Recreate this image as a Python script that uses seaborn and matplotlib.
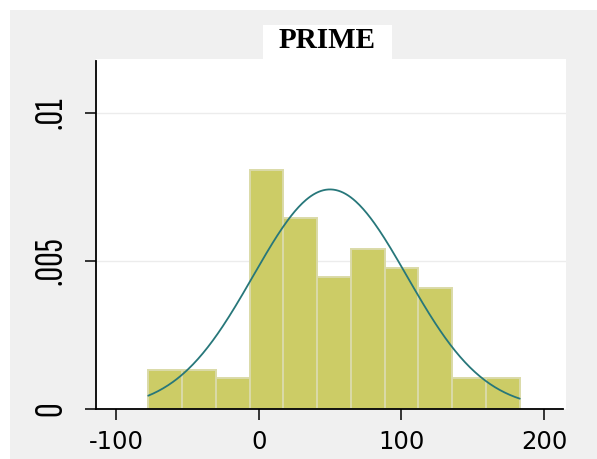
import matplotlib
matplotlib.use("Agg")
import matplotlib.pyplot as plt
from matplotlib.patches import Rectangle
import numpy as np
import pandas as pd
import seaborn as sns

# histogram bins (edges) and density heights
BIN_EDGES = [-77.4, -53.7, -30.1, -6.4, 17.3, 40.9, 64.6, 88.3, 111.9, 135.6, 159.3, 183.0]
DENSITY = [0.00133, 0.00133, 0.00104, 0.00806, 0.00646, 0.00445, 0.00542, 0.00476, 0.00409, 0.00104, 0.00104]

# normal overlay parameters
NORMAL_MEAN = 50.0
NORMAL_SD = 53.8

X_TICKS = [-100, 0, 100, 200]
X_TICK_LABELS = ["-100", "0", "100", "200"]
Y_TICKS = [0, 0.005, 0.01]
Y_TICK_LABELS = ["0", ".005", ".01"]
TITLE = "PRIME"

W, H = 597, 459


def main() -> None:
    sns.set_style("ticks")
    plt.rcParams["font.family"] = ["DejaVu Sans"]

    fig = plt.figure(figsize=(W / 100, H / 100), dpi=100, facecolor="white")
    # grey outer panel
    fig.patches.append(Rectangle((10 / W, 0), (W - 10) / W, (H - 10) / H, transform=fig.transFigure,
                                 facecolor="#f0f0f0", edgecolor="none", zorder=-10))

    ax = fig.add_axes([96 / W, 50 / H, (566 - 96) / W, (400 - 50) / H])
    ax.set_facecolor("white")

    edges = np.array(BIN_EDGES)
    df = pd.DataFrame({"x": (edges[:-1] + edges[1:]) / 2, "w": DENSITY})
    sns.histplot(data=df, x="x", weights="w", bins=BIN_EDGES, stat="count", ax=ax,
                 color="#cccc66", edgecolor="#dadaa8", linewidth=1.4, alpha=1.0, zorder=2)

    xs = np.linspace(BIN_EDGES[0], BIN_EDGES[-1], 300)
    pdf = np.exp(-0.5 * ((xs - NORMAL_MEAN) / NORMAL_SD) ** 2) / (NORMAL_SD * np.sqrt(2 * np.pi))
    curve = pd.DataFrame({"x": xs, "y": pdf})
    sns.lineplot(data=curve, x="x", y="y", ax=ax, color="#27777a", linewidth=1.3, zorder=3)

    for yv in Y_TICKS[1:]:
        ax.axhline(yv, color="#ececec", linewidth=1.0, zorder=1)

    ax.set_xlim(-114, 215.4)
    ax.set_ylim(0, 0.01182)
    ax.set_xticks(X_TICKS)
    ax.set_xticklabels(X_TICK_LABELS, fontsize=17.5, family=["DejaVu Sans"], color="black")
    ax.set_yticks(Y_TICKS)
    ax.set_yticklabels(Y_TICK_LABELS, fontsize=29, rotation=90, va="center", color="black",
                       family=["Sofia Sans Extra Condensed", "DejaVu Sans"])
    ax.tick_params(axis="both", direction="out", length=8, width=1.1, color="black")
    ax.tick_params(axis="x", pad=7)
    ax.tick_params(axis="y", pad=11)
    ax.set_xlabel("")
    ax.set_ylabel("")
    sns.despine(ax=ax)
    for side in ("left", "bottom"):
        ax.spines[side].set_color("black")
        ax.spines[side].set_linewidth(1.3)
    ax.spines["left"].set_bounds(0, 0.01176)
    ax.spines["bottom"].set_bounds(-114, 213)

    # title in a white box above the plot
    fig.patches.append(Rectangle((263 / W, 1 - 61 / H), 129 / W, 36 / H, transform=fig.transFigure,
                                 facecolor="white", edgecolor="none", zorder=5))
    fig.text(327 / W, 1 - 41 / H, TITLE, ha="center", va="center", fontsize=21, color="black",
             fontweight="bold", family=["Liberation Serif", "DejaVu Serif"], zorder=6)

    fig.savefig("out.png", dpi=100, facecolor="white")


if __name__ == "__main__":
    main()
